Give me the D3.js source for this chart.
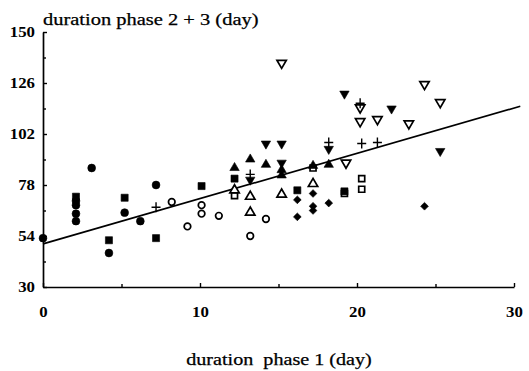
<!DOCTYPE html>
<html>
<head>
<meta charset="utf-8">
<script src="https://cdn.jsdelivr.net/npm/d3@7/dist/d3.min.js"></script>
<style>
  html, body { margin: 0; padding: 0; background: #fff; }
  svg { display: block; }
  text { font-family: "Liberation Serif", "Times New Roman", serif; fill: #000; }
</style>
</head>
<body>
<svg id="chart" width="529" height="371"></svg>
<script>
// Axis ticks
const xMajorTicks = [0, 10, 20, 30];
const xMinorTicks = [5, 15, 25];
const yMajorTicks = [30, 54, 78, 102, 126, 150];
const yMinorTicks = [42, 66, 90, 114, 138];

// Observations per group: [phase 1 duration, phase 2+3 duration]
const filledCircle = [[0, 53], [3.1, 86], [2.1, 70.5], [2.1, 68.5], [2.1, 64.5], [2.1, 61],
  [4.2, 46], [5.2, 65], [6.2, 61], [7.2, 78]];
const filledSquare = [[2.1, 72.5], [4.2, 52], [5.2, 72], [7.2, 53], [10.1, 77.5], [12.2, 81],
  [16.2, 75.5], [19.2, 75]];
const openCircle = [[8.2, 70], [9.2, 58.5], [10.1, 68.5], [10.1, 64.5], [11.2, 63.5], [13.2, 54],
  [14.2, 62]];
const openSquare = [[12.2, 73], [17.2, 86], [19.2, 74], [20.3, 81], [20.3, 76]];
const filledTriangle = [[12.2, 86.5], [13.2, 90.5], [14.2, 88], [15.2, 85.5], [15.2, 83],
  [17.2, 87.5], [18.2, 88]];
const openTriangle = [[12.2, 76], [13.2, 73], [13.2, 65.5], [15.2, 74], [17.2, 79]];
const filledDown = [[13.2, 80], [14.2, 97], [15.2, 97], [15.2, 88], [18.2, 94.5], [19.2, 120.5],
  [22.2, 113.5], [25.3, 93.5]];
const openDown = [[15.2, 135], [19.3, 88], [20.2, 114], [20.2, 107.5], [21.3, 108.5],
  [23.3, 106.5], [24.3, 125], [25.3, 116.5]];
const plusPts = [[7.2, 67.5], [13.2, 83], [18.2, 98], [20.2, 116.5], [20.3, 97.5], [21.3, 98]];
const filledDiamond = [[16.2, 71], [16.2, 63], [17.2, 74], [17.2, 68], [17.2, 66], [18.2, 69.5],
  [24.3, 68]];

// Fitted line: y = a + b x
const fitIntercept = 50.3;
const fitSlope = 2.13;
const fitRange = [0, 30.4];

const svg = d3.select("#chart");
const x = d3.scaleLinear().domain([0, 30]).range([43, 514]);
const y = d3.scaleLinear().domain([30, 150]).range([287, 32]);

// widen text horizontally to the chart's typesetting
function widen(sel, k) {
  sel.each(function () {
    const w = this.getComputedTextLength();
    d3.select(this).attr("textLength", w * k).attr("lengthAdjust", "spacingAndGlyphs");
  });
}

// Y axis
const yAxis = svg.append("g").attr("transform", `translate(${x(0)},0)`)
  .call(d3.axisLeft(y).tickValues(yMajorTicks).tickSizeInner(-4).tickSizeOuter(0).tickPadding(8));
svg.append("g").attr("transform", `translate(${x(0)},0)`)
  .call(d3.axisLeft(y).tickValues(yMinorTicks).tickSizeInner(-3).tickSizeOuter(0).tickFormat(""))
  .select(".domain").remove();

// X axis
const xAxis = svg.append("g").attr("transform", `translate(0,${y(30)})`)
  .call(d3.axisBottom(x).tickValues(xMajorTicks).tickSizeInner(-4).tickSizeOuter(0).tickPadding(20));
svg.append("g").attr("transform", `translate(0,${y(30)})`)
  .call(d3.axisBottom(x).tickValues(xMinorTicks).tickSizeInner(-3).tickSizeOuter(0).tickFormat(""))
  .select(".domain").remove();

svg.selectAll(".domain").attr("stroke", "#000").attr("stroke-width", 1.7);
svg.selectAll(".tick line").attr("stroke", "#000").attr("stroke-width", 1.4);
[yAxis, xAxis].forEach(g => {
  g.selectAll("text")
    .attr("font-family", "Liberation Serif, Times New Roman, serif")
    .attr("font-size", 14).attr("font-weight", "bold").attr("fill", "#000");
});
yAxis.selectAll("text").call(widen, 1.2);
xAxis.selectAll("text").call(widen, 1.2);

// Titles
svg.append("text").attr("x", 43).attr("y", 25)
  .attr("font-size", 16.5).attr("stroke", "#000").attr("stroke-width", 0.25)
  .text("duration phase 2 + 3 (day)").call(widen, 1.24);
svg.append("text").attr("x", 279).attr("y", 365).attr("text-anchor", "middle")
  .attr("font-size", 16.5).attr("stroke", "#000").attr("stroke-width", 0.25)
  .style("white-space", "pre")
  .text("duration  phase 1 (day)").call(widen, 1.22);

// Fitted line
svg.append("line")
  .attr("x1", x(fitRange[0])).attr("y1", y(fitIntercept + fitSlope * fitRange[0]))
  .attr("x2", x(fitRange[1])).attr("y2", y(fitIntercept + fitSlope * fitRange[1]))
  .attr("stroke", "#000").attr("stroke-width", 1.7);

// Markers
const sym = (type, size) => d3.symbol().type(type).size(size)();
const downTri = "M0,4.5L-4.7,-3.6L4.7,-3.6Z";
const upTri = "M0,-4.5L-4.7,3.6L4.7,3.6Z";
const plusPath = "M-4.5,0H4.5M0,-5V5";

function draw(data, path, filled, rotate) {
  svg.append("g").selectAll("path").data(data).join("path")
    .attr("transform", d => `translate(${x(d[0])},${y(d[1])})` + (rotate ? ` rotate(${rotate})` : ""))
    .attr("d", path)
    .attr("fill", filled ? "#000" : "#fff")
    .attr("stroke", "#000")
    .attr("stroke-width", filled ? 0.6 : 1.7);
}

draw(openCircle, sym(d3.symbolCircle, 34), false);
draw(openSquare, sym(d3.symbolSquare, 36), false);
draw(openTriangle, upTri, false);
draw(openDown, downTri, false);
draw(filledCircle, sym(d3.symbolCircle, 48), true);
draw(filledSquare, sym(d3.symbolSquare, 50), true);
draw(filledTriangle, upTri, true);
draw(filledDown, downTri, true);
draw(filledDiamond, sym(d3.symbolSquare, 30), true, 45);
svg.append("g").selectAll("path").data(plusPts).join("path")
  .attr("transform", d => `translate(${x(d[0])},${y(d[1])})`)
  .attr("d", plusPath).attr("fill", "none").attr("stroke", "#000").attr("stroke-width", 1.4);
</script>
</body>
</html>
